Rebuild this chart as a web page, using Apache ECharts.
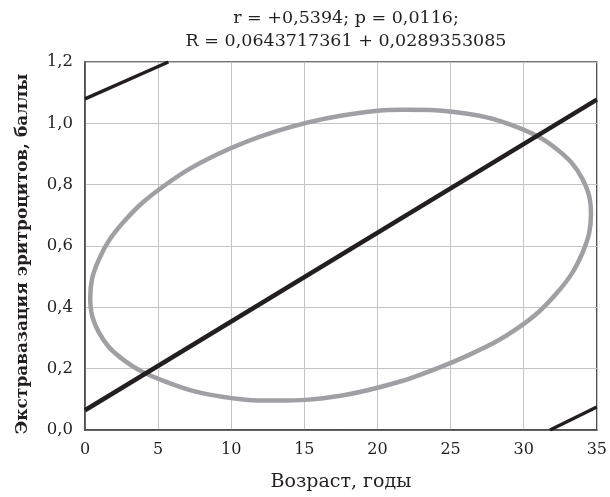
<!DOCTYPE html>
<html>
<head>
<meta charset="utf-8">
<script src="https://cdn.jsdelivr.net/npm/echarts@6/dist/echarts.min.js"></script>
<style>
html,body{margin:0;padding:0;background:#fff;}
#chart{width:610px;height:497px;}
</style>
</head>
<body>
<div id="chart"></div>
<script>
// Regression line endpoints (x, y): R = 0.0643717361 + 0.0289353085*x
var regressionLine = [[0, 0.0644], [35, 1.0771]];
// Upper and lower band lines (partially visible at corners)
var upperBand = [[0, 1.08], [5.7, 1.2]];
var lowerBand = [[31.8, 0], [35, 0.075]];
// Ellipse outline points (closed loop)
var ellipsePts = [
  [21.91, 0.163], [26.04, 0.240], [29.59, 0.332], [32.31, 0.449], [34.02, 0.578],
  [34.60, 0.704], [34.02, 0.818], [32.31, 0.914], [29.59, 0.987], [26.04, 1.032],
  [21.91, 1.044], [17.48, 1.025], [13.05, 0.974], [8.92, 0.896], [5.37, 0.795],
  [2.65, 0.679], [0.94, 0.555], [0.36, 0.432], [0.94, 0.319], [2.65, 0.228],
  [5.37, 0.160], [8.92, 0.112], [13.05, 0.096], [17.48, 0.112], [21.91, 0.163]
];
var xTicks = ['0', '5', '10', '15', '20', '25', '30', '35'];
var yTicks = ['0,0', '0,2', '0,4', '0,6', '0,8', '1,0', '1,2'];
var titleLines = ['r = +0,5394; p = 0,0116;', 'R = 0,0643717361 + 0,0289353085'];
var xName = 'Возраст, годы';
var yName = 'Экстравазация эритроцитов, баллы';

var serif = '"DejaVu Serif", "Liberation Serif", serif';
var chart = echarts.init(document.getElementById('chart'), null, {renderer: 'canvas'});
chart.setOption({
  animation: false,
  backgroundColor: '#fff',
  title: {
    text: titleLines.join('\n'),
    left: 341, top: 2, textAlign: 'center',
    textStyle: {fontFamily: serif, fontWeight: 'normal', fontSize: 17.5, color: '#231f20', lineHeight: 23}
  },
  grid: {left: 85, right: 13, top: 62, bottom: 64.5, show: true, borderColor: '#444', borderWidth: 1.5},
  xAxis: {
    type: 'value', min: 0, max: 35, interval: 5,
    name: xName, nameLocation: 'middle', nameGap: 43,
    nameTextStyle: {fontFamily: serif, fontSize: 19, color: '#231f20'},
    axisLine: {show: true, lineStyle: {color: '#444', width: 1.5}},
    axisTick: {show: false},
    axisLabel: {fontFamily: serif, fontSize: 16, color: '#231f20', margin: 12,
      formatter: function (v) { return xTicks[Math.round(v / 5)]; }},
    splitLine: {show: true, lineStyle: {color: '#c4c4c4', width: 1}}
  },
  yAxis: {
    type: 'value', min: 0, max: 1.2, interval: 0.2,
    name: yName, nameLocation: 'middle', nameGap: 54,
    nameTextStyle: {fontFamily: serif, fontSize: 17, fontWeight: 'bold', color: '#231f20', padding: [0, 16, 0, 0]},
    axisLine: {show: true, lineStyle: {color: '#444', width: 1.5}},
    axisTick: {show: false},
    axisLabel: {fontFamily: serif, fontSize: 16.5, color: '#231f20', margin: 12,
      formatter: function (v) { return yTicks[Math.round(v / 0.2)]; }},
    splitLine: {show: true, lineStyle: {color: '#c4c4c4', width: 1}}
  },
  series: [
    {type: 'line', data: ellipsePts, smooth: 0.4, showSymbol: false, clip: true,
      lineStyle: {color: '#a0a0a4', width: 4.5}},
    {type: 'line', data: regressionLine, showSymbol: false, clip: true,
      lineStyle: {color: '#231f20', width: 4.5}},
    {type: 'line', data: upperBand, showSymbol: false, clip: true,
      lineStyle: {color: '#231f20', width: 3.5}},
    {type: 'line', data: lowerBand, showSymbol: false, clip: true,
      lineStyle: {color: '#231f20', width: 3.5}}
  ]
});
</script>
</body>
</html>
